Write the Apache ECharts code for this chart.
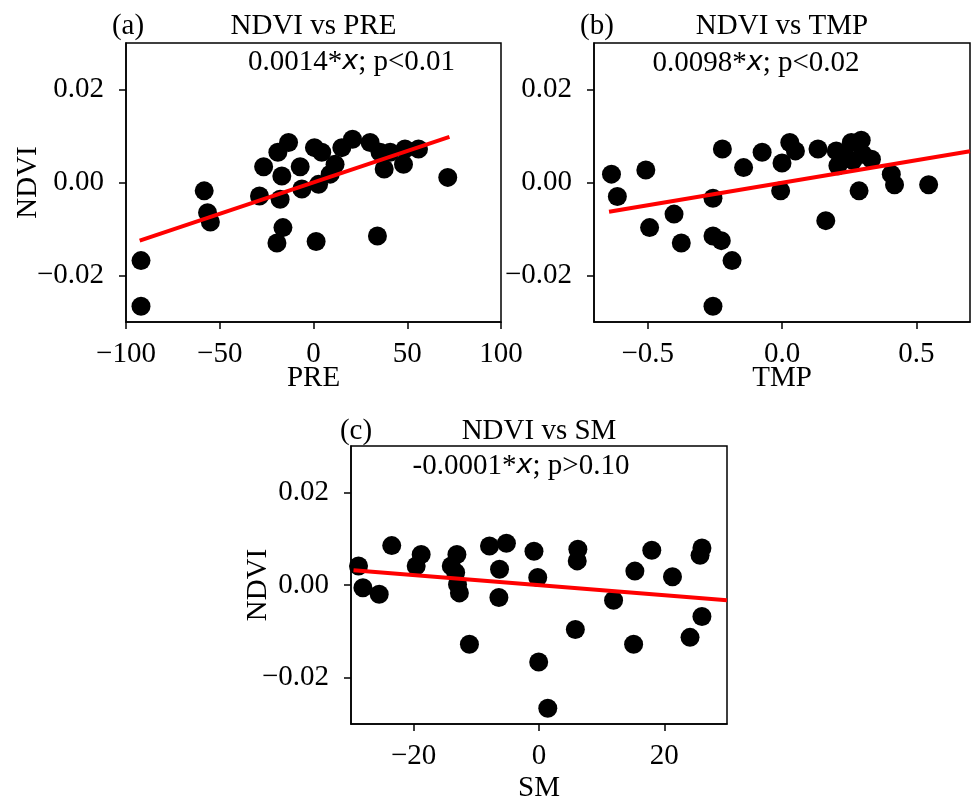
<!DOCTYPE html>
<html>
<head>
<meta charset="utf-8">
<script src="https://cdn.jsdelivr.net/npm/echarts@6/dist/echarts.min.js"></script>
<style>html,body{margin:0;padding:0;background:#fff}#c{width:971px;height:797px}</style>
</head>
<body>
<div id="c"></div>
<script>
// ---- data ----
const preX = [-92,-92,-58.3,-56.5,-55,-28.8,-26.6,-19,-13.3,-16.9,-17.8,-16.3,-19.5,-7.1,-6.2,0.5,4.4,2.7,1.4,8.9,11.5,15.1,20.8,30.2,35.5,37.7,40.9,48,48.8,56,34.1,71.6];
const preY = [-0.0168,-0.0266,-0.0018,-0.0065,-0.0085,-0.0029,0.0034,0.0065,0.0086,0.0014,-0.0036,-0.0097,-0.013,0.0034,-0.0014,0.0075,0.0065,-0.0004,-0.0127,0.0018,0.0039,0.0075,0.0093,0.0086,0.0065,0.0029,0.0065,0.0039,0.0072,0.0072,-0.0115,0.0011];
const tmpX = [-0.635,-0.613,-0.507,-0.493,-0.402,-0.375,-0.257,-0.257,-0.226,-0.186,-0.257,-0.222,-0.143,-0.074,0.0,-0.005,0.029,0.05,0.134,0.163,0.202,0.208,0.239,0.258,0.295,0.301,0.333,0.287,0.407,0.419,0.546,0.264];
const tmpY = [0.0018,-0.003,0.0027,-0.0097,-0.0068,-0.013,-0.0034,-0.0115,-0.0125,-0.0168,-0.0266,0.0072,0.0032,0.0065,0.0042,-0.0018,0.0086,0.0068,0.0072,-0.0082,0.0068,0.0036,0.0054,0.0086,0.0091,0.0061,0.005,-0.0018,0.0018,-0.0005,-0.0005,0.0047];
const smX = [-28.8,-28.1,-25.5,-23.5,-19.6,-18.8,-14,-13.1,-13.3,-13,-12.7,-11.1,-7.9,-5.2,-6.3,-6.4,-0.8,-0.2,-0.05,1.4,6.2,6.1,5.8,11.9,15.3,15.1,18,21.3,24.1,26,25.7,26];
const smY = [0.0041,-0.0006,-0.002,0.0085,0.0041,0.0066,0.0041,0.0066,0.0027,0.0001,-0.0017,-0.0128,0.0084,0.009,0.0034,-0.0027,0.0073,0.0016,-0.0166,-0.0266,0.0077,0.0052,-0.0096,-0.0033,0.003,-0.0128,0.0075,0.0018,-0.0113,0.008,0.0064,-0.0068];
const preLineX = [-92.7, 72.5], preLineY = [-0.0125, 0.0098];
const tmpLineX = [-0.644, 0.70], tmpLineY = [-0.0063, 0.0067];
const smLineX = [-29.6, 30], smLineY = [0.0032, -0.0033];
const yTicks = [-0.02, 0, 0.02];
const preTicks = [-100, -50, 0, 50, 100];
const tmpTicks = [-0.5, 0, 0.5];
const smTicks = [-20, 0, 20];
const titles = ['NDVI vs PRE', 'NDVI vs TMP', 'NDVI vs SM'];
const panelLabels = ['(a)', '(b)', '(c)'];
const xNames = ['PRE', 'TMP', 'SM'];
const notes = [['0.0014*', '; p<0.01'], ['0.0098*', '; p<0.02'], ['-0.0001*', '; p>0.10']];

// ---- chart ----
const FONT = 'Liberation Serif';
const FS = 29;
const minus = s => String(s).replace('-', '\u2212');
const zip = (a, b) => a.map((v, i) => [v, b[i]]);

const grids = [
  {left: 126, top: 43, width: 375, height: 279},
  {left: 594, top: 43, width: 376, height: 279},
  {left: 351, top: 446, width: 376, height: 278}
];
const xRanges = [[-100, 100], [-0.7, 0.7], [-30, 30]];
const xTickVals = [preTicks, tmpTicks, smTicks];
const xFmt = [v => minus(v), v => minus(v.toFixed(1)), v => minus(v)];

const axisCommon = {
  type: 'value',
  axisLine: {show: true, onZero: false, lineStyle: {color: '#000', width: 1.5}},
  axisTick: {show: true, inside: false, length: 7, lineStyle: {color: '#000', width: 1.5}},
  splitLine: {show: false},
  nameMoveOverlap: false,
  nameTextStyle: {fontFamily: FONT, fontSize: FS, color: '#000'}
};

const xAxis = grids.map((g, i) => Object.assign({}, axisCommon, {
  gridIndex: i, min: xRanges[i][0], max: xRanges[i][1],
  axisTick: Object.assign({}, axisCommon.axisTick, {customValues: xTickVals[i]}),
  axisLabel: {customValues: xTickVals[i], formatter: xFmt[i], fontFamily: FONT, fontSize: FS, color: '#000', margin: 18},
  name: xNames[i], nameLocation: 'middle', nameGap: i === 2 ? 50 : 42
}));
const yAxis = grids.map((g, i) => Object.assign({}, axisCommon, {
  gridIndex: i, min: -0.03, max: 0.03,
  axisTick: Object.assign({}, axisCommon.axisTick, {customValues: yTicks}),
  axisLabel: {customValues: yTicks, formatter: v => minus(v.toFixed(2)), fontFamily: FONT, fontSize: FS, color: '#000', margin: 22},
  name: i === 1 ? '' : 'NDVI', nameLocation: 'middle', nameRotate: 90, nameGap: i === 0 ? 83 : 78
}));

const pts = [zip(preX, preY), zip(tmpX, tmpY), zip(smX, smY)];
const lines = [zip(preLineX, preLineY), zip(tmpLineX, tmpLineY), zip(smLineX, smLineY)];
const series = [];
pts.forEach((d, i) => {
  series.push({type: 'scatter', xAxisIndex: i, yAxisIndex: i, data: d, symbolSize: 19,
    itemStyle: {color: '#000', opacity: 1}, z: 2, animation: false});
  series.push({type: 'line', xAxisIndex: i, yAxisIndex: i, data: lines[i], showSymbol: false,
    lineStyle: {color: '#ff0000', width: 4}, z: 3, animation: false, clip: true});
});

const textPos = {
  labels: [[128, 26], [597, 26], [356, 431]],
  titles: [[313.5, 26], [782, 26], [539, 431]],
  notes: [[351.5, 62], [756, 63], [521, 466]]
};
const graphic = [];
for (let i = 0; i < 3; i++) {
  graphic.push({type: 'text', x: textPos.labels[i][0], y: textPos.labels[i][1],
    style: {text: panelLabels[i], font: FS + 'px "' + FONT + '"', fill: '#000', align: 'center', verticalAlign: 'middle'}});
  graphic.push({type: 'text', x: textPos.titles[i][0], y: textPos.titles[i][1],
    style: {text: titles[i], font: FS + 'px "' + FONT + '"', fill: '#000', align: 'center', verticalAlign: 'middle'}});
  graphic.push({type: 'text', x: textPos.notes[i][0], y: textPos.notes[i][1], z: 10,
    style: {text: notes[i][0] + '{x|x}' + notes[i][1], fontFamily: FONT, fontSize: FS, fill: '#000',
      align: 'center', verticalAlign: 'middle',
      rich: {x: {fontFamily: 'DejaVu Sans', fontStyle: 'italic', fontSize: 27, fill: '#000'}}}});
}

const chart = echarts.init(document.getElementById('c'), null, {renderer: 'canvas'});
chart.setOption({
  animation: false,
  backgroundColor: '#fff',
  grid: grids.map(g => Object.assign({show: true, borderColor: '#000', borderWidth: 1.5, backgroundColor: 'transparent',
    containLabel: false, outerBoundsMode: 'none'}, g)),
  xAxis, yAxis, series, graphic
});
</script>
</body>
</html>
